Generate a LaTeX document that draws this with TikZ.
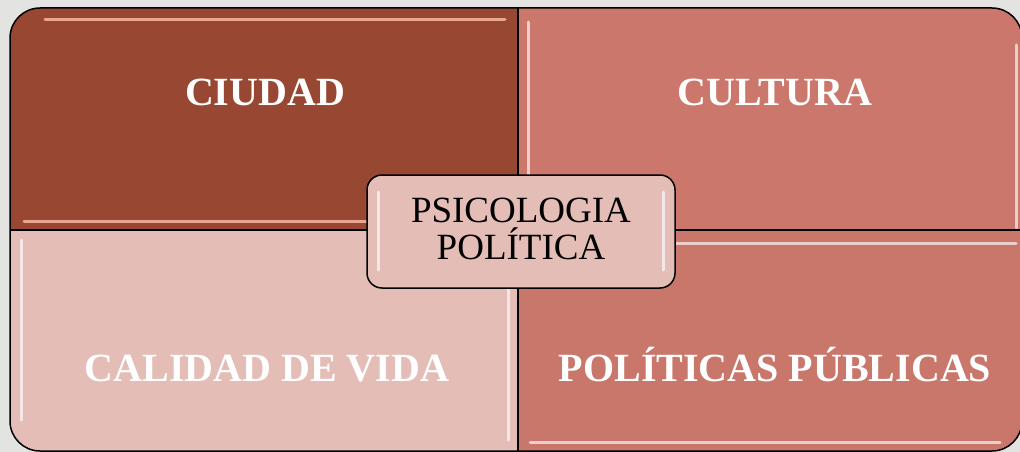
\documentclass[tikz,border=0pt]{standalone}
\usepackage{fontspec}
\setmainfont{Liberation Serif}
\definecolor{bgc}{HTML}{E3E3E1}
\definecolor{ciudadc}{HTML}{984732}
\definecolor{culturac}{HTML}{CB776B}
\definecolor{calidadc}{HTML}{E4BDB6}
\definecolor{politc}{HTML}{C9776B}
\definecolor{hiA}{HTML}{E8A690}
\tikzset{
  quadtext/.style={text=white, font=\bfseries\fontsize{40}{40}\selectfont, inner sep=0pt, anchor=base},
  hilite/.style={white, opacity=0.65, line width=3pt, line cap=round},
  hiliteB/.style={hiA, line width=3pt, line cap=round},
  centerbox/.style={draw=black, line width=1.5pt, fill=calidadc, rounded corners=15pt,
    minimum width=308pt, minimum height=113pt, inner sep=0pt},
  centertext/.style={align=center, inner sep=0pt,
    font=\fontsize{37}{37}\selectfont, text=black}
}
\begin{document}
\begin{tikzpicture}[x=1pt,y=-1pt]
\useasboundingbox (0,0) rectangle (1020,452);
\fill[bgc] (0,0) rectangle (1020,452);
\begin{scope}
  \clip[rounded corners=30pt] (10,8) rectangle (1022,451);
  \fill[ciudadc] (10,8) rectangle (518,230);
  \fill[culturac] (518,8) rectangle (1022,230);
  \fill[calidadc] (10,230) rectangle (518,451);
  \fill[politc] (518,230) rectangle (1022,451);
  % bevel highlights
  \draw[hiliteB] (45,20) -- (505,20);
  \draw[hiliteB] (24,221) -- (516,221);
  \draw[hilite] (528,22) -- (528,226);
  \draw[hilite] (1016,45) -- (1016,228);
  \draw[hilite] (21,240) -- (21,420);
  \draw[hilite] (508,236) -- (508,440);
  \draw[hilite] (530,243) -- (1016,243);
  \draw[hilite] (530,442) -- (1000,442);
\end{scope}
\draw[line width=1.5pt, rounded corners=30pt] (10,8) rectangle (1022,451);
\draw[line width=1.5pt] (518,8) -- (518,451);
\draw[line width=1.5pt] (10,230) -- (1022,230);
\node[quadtext] (ciudad) at (265,105) {CIUDAD};
\node[quadtext] (cultura) at (775,105) {CULTURA};
\node[quadtext] (calidad) at (267,381) {CALIDAD DE VIDA};
\node[quadtext] (politicas) at (775,381) {POLÍTICAS PÚBLICAS};
\node[centerbox] (psico) at (521,231.5) {};
\node[centertext] (psicotext) at ([yshift=3pt]psico.center) {PSICOLOGIA\\POLÍTICA};
\draw[hilite] (378,192) -- (378,270);
\draw[hilite] (663,192) -- (663,270);
\end{tikzpicture}
\end{document}
